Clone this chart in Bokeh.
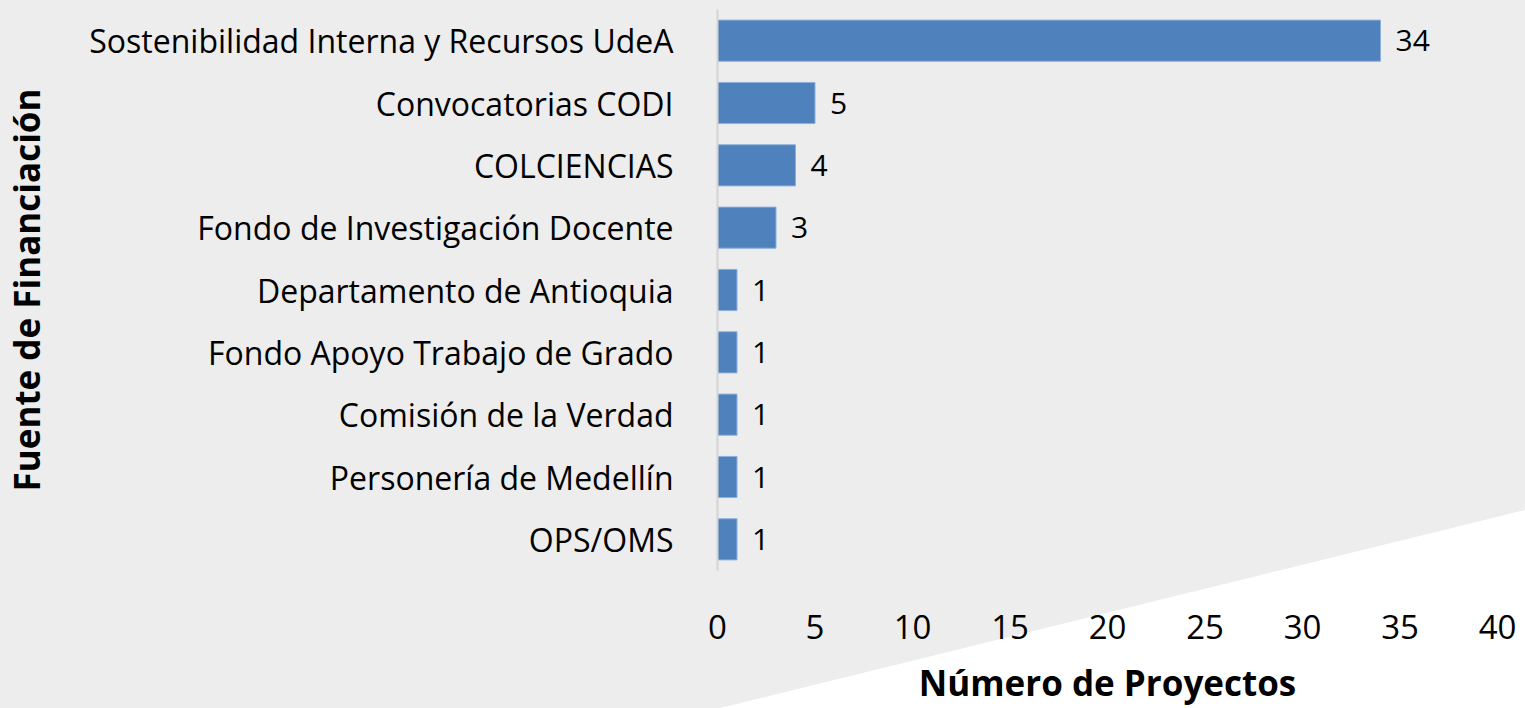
import base64
from bokeh.plotting import figure
from bokeh.models import (ColumnDataSource, FactorRange, Range1d, FixedTicker,
                          LabelSet)
from bokeh.core.properties import value
from bokeh.embed import file_html
from bokeh.resources import INLINE

categories = [
    "Sostenibilidad Interna y Recursos UdeA",
    "Convocatorias CODI",
    "COLCIENCIAS",
    "Fondo de Investigación Docente",
    "Departamento de Antioquia",
    "Fondo Apoyo Trabajo de Grado",
    "Comisión de la Verdad",
    "Personería de Medellín",
    "OPS/OMS",
]
values = [34, 5, 4, 3, 1, 1, 1, 1, 1]
x_ticks = [0, 5, 10, 15, 20, 25, 30, 35, 40]

BG = "#ECEDEC"
FONT = "Open Sans"
W, H = 1525, 708

# decorative page background: grey with a white wedge at the lower right
svg_bg = (f'<svg xmlns="http://www.w3.org/2000/svg" width="{W}" height="{H}">'
          f'<rect width="{W}" height="{H}" fill="{BG}"/>'
          f'<polygon points="720,708 1525,510 1525,708" fill="#ffffff"/></svg>')
bg_url = "data:image/svg+xml;base64," + base64.b64encode(svg_bg.encode()).decode()

src = ColumnDataSource(dict(cat=categories, val=values,
                            lbl=[str(v) for v in values]))

p = figure(width=W, height=H, output_backend="svg", toolbar_location=None,
           y_range=FactorRange(*reversed(categories)), x_range=Range1d(0, 40),
           min_border_left=716, min_border_right=28, min_border_top=9,
           min_border_bottom=135)
p.styles = {"background-image": f"url({bg_url})",
            "background-repeat": "no-repeat"}
p.background_fill_color = None
p.border_fill_color = None
p.outline_line_color = None
p.xgrid.visible = False
p.ygrid.visible = False

p.hbar(y="cat", right="val", left=0, height=0.66, source=src,
       fill_color="#4F81BD", line_color="#8DB0DA", line_width=1)

labels = LabelSet(x="val", y="cat", text="lbl", source=src, x_offset=15,
                  text_baseline="middle", text_align="left",
                  text_font=value(FONT), text_font_size="30px",
                  text_color="#000000")
p.add_layout(labels)

xa = p.xaxis[0]
xa.ticker = FixedTicker(ticks=x_ticks)
xa.axis_line_color = None
xa.major_tick_line_color = None
xa.minor_tick_line_color = None
xa.major_label_text_font = FONT
xa.major_label_text_font_size = "33px"
xa.major_label_text_color = "#000000"
xa.major_label_standoff = 38
xa.axis_label = "Número de Proyectos"
xa.axis_label_text_font = FONT
xa.axis_label_text_font_style = "bold"
xa.axis_label_text_font_size = "35px"
xa.axis_label_text_color = "#000000"
xa.axis_label_standoff = 17

ya = p.yaxis[0]
ya.axis_line_color = "#D4D4D4"
ya.axis_line_width = 2
ya.major_tick_line_color = None
ya.minor_tick_line_color = None
ya.major_label_text_font = FONT
ya.major_label_text_font_size = "32px"
ya.major_label_text_color = "#000000"
ya.major_label_standoff = 38
ya.axis_label = "Fuente de Financiación"
ya.axis_label_text_font = FONT
ya.axis_label_text_font_style = "bold"
ya.axis_label_text_font_size = "35px"
ya.axis_label_text_color = "#000000"
ya.axis_label_standoff = 36

open("out.html", "w").write(file_html(p, INLINE))
